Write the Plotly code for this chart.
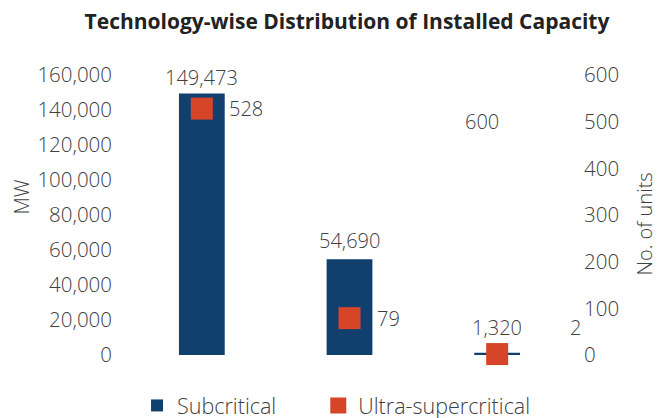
import plotly.graph_objects as go

categories = ["Subcritical", "Supercritical", "Ultra-supercritical"]
capacity_mw = [149473, 54690, 1320]
units = [528, 79, 2]
left_ticks = [0, 20000, 40000, 60000, 80000, 100000, 120000, 140000, 160000]
right_ticks = [0, 100, 200, 300, 400, 500, 600]

NAVY = "#11406F"
ORANGE = "#D64527"
TXT = "#404040"
FONT = "Open Sans"

# page body has an 8px default margin; figure is sized to fit the 663x418 window
W, H = 655, 410

def f(size=20, color=TXT, weight=300):
    return dict(family=FONT, size=size, color=color, weight=weight)

fig = go.Figure()
fig.add_trace(go.Bar(
    x=categories, y=capacity_mw, name="Subcritical",
    marker=dict(color=NAVY, line=dict(width=0)), width=0.31,
    showlegend=True, legend="legend",
))
fig.add_trace(go.Scatter(
    x=categories, y=units, name="Ultra-supercritical", yaxis="y2",
    mode="markers", marker=dict(symbol="square", size=22, color=ORANGE),
    cliponaxis=False, legend="legend2",
))

ann = []
bar_label_shift = [0, 3, 10]
for c, v, s in zip(categories, capacity_mw, bar_label_shift):
    ann.append(dict(x=c, y=v, xref="x", yref="y", text=f"{v:,}", showarrow=False,
                    yanchor="bottom", yshift=s, font=f()))
for i, (c, u) in enumerate(zip(categories, units)):
    if i < 2:
        ann.append(dict(x=c, y=u, xref="x", yref="y2", text=f"{u:,}", showarrow=False,
                        xanchor="left", xshift=25, font=f()))
    else:
        ann.append(dict(x=c, y=u, xref="x", yref="y2", text=f"{u:,}", showarrow=False,
                        xanchor="center", xshift=78, yshift=27, font=f()))
ann.append(dict(x=categories[2], y=500, xref="x", yref="y2", text=f"{right_ticks[-1]}", showarrow=False,
                xanchor="center", xshift=-15, font=f()))
# axis titles
ann.append(dict(x=-0.2415, y=0.5625, xref="paper", yref="paper", text="MW", textangle=-90,
                showarrow=False, xanchor="center", yanchor="middle", font=f()))
ann.append(dict(x=1.166, y=0.468, xref="paper", yref="paper", text="No. of units", textangle=-90,
                showarrow=False, xanchor="center", yanchor="middle", font=f()))

leg_common = dict(orientation="h", xref="container", xanchor="left", y=-0.107, yanchor="top",
                  font=f(size=21.5), itemwidth=30, bgcolor="rgba(0,0,0,0)")

fig.update_layout(
    width=W, height=H,
    margin=dict(l=120, r=92, t=67, b=63, autoexpand=False),
    paper_bgcolor="white", plot_bgcolor="white",
    title=dict(text="<b>Technology-wise Distribution of Installed Capacity</b>",
               x=0.5176, xanchor="center", y=0.966, yanchor="middle",
               font=dict(family=FONT, size=21, color="#222222")),
    font=f(),
    xaxis=dict(range=[-0.5, 2.5], showticklabels=False, showgrid=False, zeroline=False, showline=False),
    yaxis=dict(range=[0, 160000], tickvals=left_ticks, tickformat=",", showgrid=False,
               zeroline=False, showline=False, ticks="", ticklabelstandoff=15,
               tickfont=f(size=20.5)),
    yaxis2=dict(range=[0, 600], tickvals=right_ticks, overlaying="y", side="right",
                showgrid=False, zeroline=False, showline=False, ticks="", ticklabelstandoff=12,
                tickfont=f(size=20.5)),
    legend=dict(x=0.197, **leg_common),
    legend2=dict(x=0.4737, **leg_common),
    annotations=ann,
)
fig.write_html("out.html", config={"displayModeBar": False})
